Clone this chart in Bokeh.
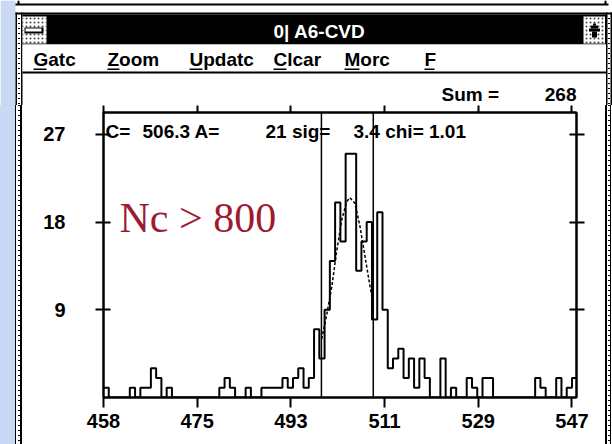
from bokeh.plotting import figure
from bokeh.layouts import column, row
from bokeh.models import Range1d, LinearAxis, FixedTicker, Div
from bokeh.core.properties import value
from bokeh.embed import file_html
from bokeh.resources import INLINE

# ---------------- data ----------------
first_channel = 458
counts = [1, 0, 0, 0, 0, 1, 0, 1, 1, 3,
          2, 0, 1, 0, 0, 0, 0, 0, 0, 0,
          0, 0, 1, 2, 1, 0, 0, 1, 0, 0,
          1, 1, 1, 1, 2, 1, 2, 3, 1, 2,
          7, 4, 9, 14, 20, 16, 25, 25, 13, 16,
          18, 8, 19, 9, 3, 4, 5, 2, 4, 1,
          4, 2, 0, 0, 4, 0, 1, 0, 0, 2,
          1, 0, 2, 2, 0, 0, 0, 0, 0, 0,
          0, 0, 2, 1, 0, 0, 2, 0, 1, 2]
fit_x = [499.45, 500.4, 501.35, 502.3, 503.25, 504.2, 504.8, 505.8, 506.7, 507.7, 508.6, 509.25]
fit_y = [6.0, 8.5, 11.3, 15.0, 18.2, 20.1, 20.5, 19.9, 17.6, 14.4, 11.5, 9.6]
gate_lines = [499.4, 509.25]
x_ticks = [458, 475.8, 493.6, 511.4, 529.2, 547]
x_tick_labels = ["458", "475", "493", "511", "529", "547"]
y_ticks = [9, 18, 27]
y_tick_labels = ["9", "18", "27"]
fit_texts = ["C=", "506.3 A=", "21 sig=", "3.4 chi= 1.01"]
sum_text = "Sum ="
sum_value = "268"
title_text = "0| A6-CVD"
menu_items = ["Gatc", "Zoom", "Updatc", "Clcar", "Morc", "F"]
note_text = "Nc > 800"

# ---------------- layout constants (canvas pixels) ----------------
W, H = 612, 444
TOP_H = 105                 # height of the title/menu strip figure
LEFT_W, RIGHT_W = 22, 7     # window border strips
FL, FR, FT, FB = 103, 576, 112, 397
PX_PER_CH = 5.264
PX_PER_COUNT = 9.75
FONT = "Liberation Sans"
BLUE = "#c9d8f3"

DASHES = "repeating-linear-gradient(to bottom, black 0px, black 1px, transparent 1px, transparent 5px)"


def strip_div(width, dash_x, stops):
    bg = (f"{DASHES} {dash_x}px 0px / 2px 100% no-repeat, "
          f"linear-gradient(to right, {stops})")
    return Div(text="", width=width, height=H - TOP_H, margin=0,
               styles={"background": bg})


def chrome_fig(w, h, x0, y0):
    f = figure(width=w, height=h, output_backend="svg", toolbar_location=None,
               x_range=Range1d(x0, x0 + w), y_range=Range1d(y0 + h, y0),
               min_border=0, x_axis_location=None, y_axis_location=None)
    f.grid.visible = False
    f.outline_line_color = None
    f.background_fill_color = "white"
    f.border_fill_color = "white"
    return f


def rect(f, x0, y0, x1, y1, color, **kw):
    f.quad(left=x0, right=x1, top=y0, bottom=y1, fill_color=color,
           line_color=None, **kw)


DOTS = dict(hatch_pattern="dot", hatch_color="#444444", hatch_scale=4, hatch_weight=1)
DASH = dict(hatch_pattern="horizontal_line", hatch_color="black", hatch_scale=5, hatch_weight=1)

# ---------------- top strip: title bar, menu, sum ----------------
top = chrome_fig(W, TOP_H, 0, 0)
rect(top, 0, 0, 15, TOP_H, BLUE)
rect(top, 15, 12, 16.5, TOP_H, "black")
rect(top, 17.5, 14, 19.5, TOP_H, "white", **DASH)
rect(top, 20.5, 12, 22, TOP_H, "black")
rect(top, 605.5, 12, 607, TOP_H, "black")
rect(top, 607.5, 14, 609.5, TOP_H, "white", **DASH)
rect(top, 610, 12, 611.5, TOP_H, "black")
# bottom edge of the window behind
rect(top, 15, 3, 608, 5, "black")
rect(top, 17, 0, 19, 4, "black")
rect(top, 604, 0, 606, 4, "black")
rect(top, 15, 12, 612, 14, "black")
# title bar
rect(top, 22, 14, 605.5, 44, "black")
rect(top, 22, 16, 46, 43, "white", **DOTS)
rect(top, 24, 27, 43, 33, "black")
rect(top, 25, 28, 41, 31, "white")
rect(top, 583, 16, 604.5, 43, "white", **DOTS)
rect(top, 592.5, 23, 595.5, 25, "black")
rect(top, 590.5, 25, 597.5, 28, "black")
rect(top, 588.5, 28, 599.5, 31, "black")
rect(top, 591.5, 31, 596.5, 37, "black")
top.text(x=[319], y=[31], text=[title_text], text_color="white", text_font=value(FONT),
         text_font_size="19px", text_font_style="bold", text_align="center",
         text_baseline="middle")
# menu bar
rect(top, 22, 44, 605.5, 71, "white")
rect(top, 22, 71, 605.5, 73, "black")
menu_x = [33, 107, 189, 273, 344, 424]
under_w = [13, 12, 13, 13, 15, 10]
top.text(x=menu_x, y=[59] * len(menu_items), text=menu_items, text_color="black",
         text_font=value(FONT), text_font_size="19px", text_font_style="bold",
         text_align="left", text_baseline="middle")
top.quad(left=menu_x, right=[mx + uw for mx, uw in zip(menu_x, under_w)],
         top=[68] * len(menu_x), bottom=[69.5] * len(menu_x),
         fill_color="black", line_color=None)
# sum readout
top.text(x=[441], y=[94], text=[sum_text], text_font=value(FONT), text_font_size="19px",
         text_font_style="bold", text_align="left", text_baseline="middle")
top.text(x=[576], y=[94], text=[sum_value], text_font=value(FONT), text_font_size="19px",
         text_font_style="bold", text_align="right", text_baseline="middle")

# ---------------- side strips (window border, wallpaper) ----------------
left = strip_div(LEFT_W, 17.5,
                 f"{BLUE} 0px, {BLUE} 15px, black 15px, black 16.5px, white 16.5px, "
                 f"white 20.5px, black 20.5px, black 22px")
right = strip_div(RIGHT_W, 2.5,
                  "black 0px, black 2px, white 2px, white 5px, black 5px, black 6.5px, "
                  "white 6.5px, white 7px")

# ---------------- the spectrum ----------------
CW = W - LEFT_W - RIGHT_W
CH = H - TOP_H
x_max = first_channel + (FR - FL) / PX_PER_CH
y_max = (FB - FT) / PX_PER_COUNT

p = figure(width=CW, height=CH, output_backend="svg", toolbar_location=None,
           x_range=Range1d(first_channel, x_max), y_range=Range1d(0, y_max),
           min_border_left=FL - LEFT_W, min_border_right=(W - RIGHT_W) - FR,
           min_border_top=FT - TOP_H, min_border_bottom=H - FB,
           x_axis_location=None, y_axis_location=None)
p.grid.visible = False
p.background_fill_color = "white"
p.border_fill_color = "white"
p.outline_line_color = "black"
p.outline_line_width = 2


def axis(ticks, labels, show, tin, tout, standoff):
    return LinearAxis(ticker=FixedTicker(ticks=ticks),
                      major_label_overrides=dict(zip(ticks, labels)),
                      axis_line_color="black", axis_line_width=2,
                      major_tick_line_color="black", major_tick_line_width=2,
                      major_tick_in=tin, major_tick_out=tout,
                      minor_tick_line_color=None,
                      major_label_standoff=standoff,
                      major_label_text_font=FONT,
                      major_label_text_font_style="bold",
                      major_label_text_font_size="20px" if show else "0px",
                      major_label_text_color="black" if show else None)


p.add_layout(axis(y_ticks, y_tick_labels, True, 7, 8, 30), "left")
p.add_layout(axis(y_ticks, y_tick_labels, False, 7, 8, 0), "right")
p.add_layout(axis(x_ticks, x_tick_labels, True, 0, 10, 6), "below")
p.add_layout(axis(x_ticks, x_tick_labels, False, 0, FT - TOP_H, 0), "above")

edges = [first_channel + i for i in range(len(counts) + 1)]
p.step(x=edges, y=counts + [counts[-1]], mode="after", line_color="black", line_width=2)
p.segment(x0=gate_lines, y0=[0, 0], x1=gate_lines, y1=[y_max, y_max],
          line_color="black", line_width=1.5)
p.line(fit_x, fit_y, line_color="black", line_width=1.5, line_dash="3 2")


# text inside the frame, placed by canvas pixel position
def px_to_x(X):
    return first_channel + (X - FL) / PX_PER_CH


def px_to_y(Y):
    return (FB - Y) / PX_PER_COUNT


p.text(x=[px_to_x(v) for v in [105, 142, 265, 353]], y=[px_to_y(131)] * 4, text=fit_texts,
       text_font=value(FONT), text_font_size="19px", text_font_style="bold",
       text_align="left", text_baseline="middle", text_color="black")
p.text(x=[px_to_x(119)], y=[px_to_y(217)], text=[note_text], text_font=value("Liberation Serif"),
       text_font_size="42px", text_color="#9e1b32", text_align="left",
       text_baseline="alphabetic")

layout = column(top, row(left, p, right, spacing=0), spacing=0)
open("out.html", "w").write(file_html(layout, INLINE))
